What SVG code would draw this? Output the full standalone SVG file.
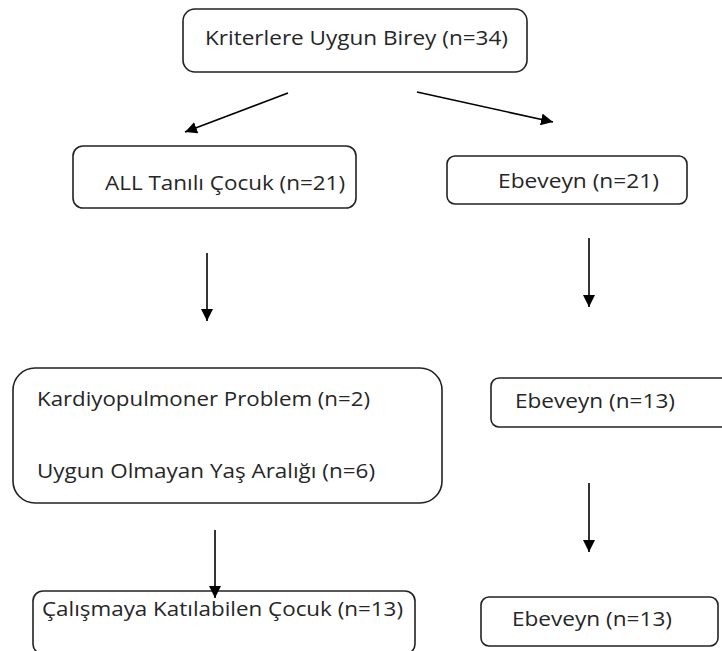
<svg xmlns="http://www.w3.org/2000/svg" width="722" height="651" viewBox="0 0 722 651">
  <style>
    .box { fill: #ffffff; stroke: #222222; stroke-width: 1.6; }
    .lbl { font-family: "Open Sans", "Liberation Sans", sans-serif; font-size: 19.5px; fill: #262626; }
    .conn { stroke: #000000; stroke-width: 1.6; fill: none; marker-end: url(#arrow); }
  </style>
  <defs>
    <marker id="arrow" viewBox="0 0 10 10" refX="10" refY="5" markerWidth="12" markerHeight="12" markerUnits="userSpaceOnUse" orient="auto">
      <path d="M0,0 L10,5 L0,10 z" fill="#000000"/>
    </marker>
  </defs>
  <rect width="722" height="651" fill="#ffffff"/>

  <g id="connectors">
    <line class="conn" x1="288" y1="93" x2="185" y2="132"/>
    <line class="conn" x1="417" y1="92" x2="553" y2="122"/>
    <line class="conn" x1="207" y1="253" x2="207" y2="321"/>
    <line class="conn" x1="589" y1="238" x2="589" y2="307"/>
    <line class="conn" x1="589" y1="483" x2="589" y2="552"/>
  </g>

  <g id="n-kriter">
    <rect class="box" x="183" y="9" width="344" height="63" rx="12"/>
    <text class="lbl" x="205" y="45" textLength="303" lengthAdjust="spacingAndGlyphs">Kriterlere Uygun Birey (n=34)</text>
  </g>

  <g id="n-all">
    <rect class="box" x="73" y="146" width="283" height="62" rx="10"/>
    <text class="lbl" x="105" y="190" textLength="240" lengthAdjust="spacingAndGlyphs">ALL Tanılı Çocuk (n=21)</text>
  </g>

  <g id="n-ebeveyn21">
    <rect class="box" x="447" y="156" width="240" height="48" rx="8"/>
    <text class="lbl" x="498" y="188" textLength="161" lengthAdjust="spacingAndGlyphs">Ebeveyn (n=21)</text>
  </g>

  <g id="n-exclusion">
    <rect class="box" x="13" y="368" width="429" height="135" rx="22"/>
    <text class="lbl" x="37" y="406" textLength="333" lengthAdjust="spacingAndGlyphs">Kardiyopulmoner Problem (n=2)</text>
    <text class="lbl" x="37" y="478" textLength="338" lengthAdjust="spacingAndGlyphs">Uygun Olmayan Yaş Aralığı (n=6)</text>
  </g>

  <g id="n-ebeveyn13a">
    <rect class="box" x="491" y="378" width="245" height="49" rx="8"/>
    <text class="lbl" x="515" y="408" textLength="160" lengthAdjust="spacingAndGlyphs">Ebeveyn (n=13)</text>
  </g>

  <g id="n-calisma">
    <rect class="box" x="33" y="591" width="382" height="63" rx="10"/>
    <text class="lbl" x="42" y="616" textLength="361" lengthAdjust="spacingAndGlyphs">Çalışmaya Katılabilen Çocuk (n=13)</text>
  </g>

  <g id="n-ebeveyn13b">
    <rect class="box" x="481" y="597" width="237" height="49" rx="8"/>
    <text class="lbl" x="512" y="626" textLength="160" lengthAdjust="spacingAndGlyphs">Ebeveyn (n=13)</text>
  </g>

  <g id="connectors-front">
    <line class="conn" x1="215" y1="530" x2="215" y2="598"/>
  </g>
</svg>
